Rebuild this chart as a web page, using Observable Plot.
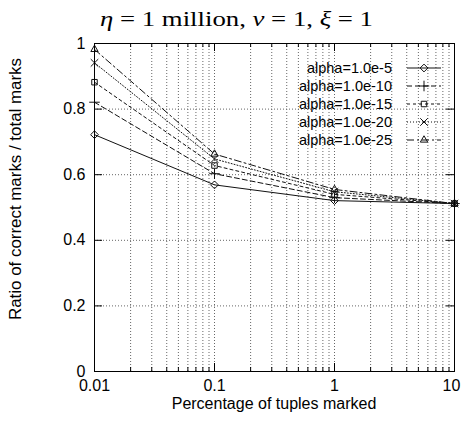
<!DOCTYPE html>
<html>
<head>
<meta charset="utf-8">
<script src="https://cdn.jsdelivr.net/npm/d3@7"></script>
<script src="https://cdn.jsdelivr.net/npm/@observablehq/plot@0.6"></script>
<style>
  body { margin: 0; background: #fff; }
</style>
</head>
<body>
<div id="wrap"></div>
<script>
// ---- data ----
const percents = [0.01, 0.1, 1, 10];
const alpha5  = [0.722, 0.569, 0.521, 0.512];
const alpha10 = [0.821, 0.603, 0.530, 0.512];
const alpha15 = [0.882, 0.628, 0.540, 0.512];
const alpha20 = [0.941, 0.648, 0.548, 0.512];
const alpha25 = [0.982, 0.663, 0.555, 0.512];
const seriesNames = ["alpha=1.0e-5", "alpha=1.0e-10", "alpha=1.0e-15", "alpha=1.0e-20", "alpha=1.0e-25"];
const xTickLabels = [0.01, 0.1, 1, 10];
const yTickLabels = [0, 0.2, 0.4, 0.6, 0.8, 1];
const xLabel = "Percentage of tuples marked";
const yLabel = "Ratio of correct marks / total marks";
const titleParts = [["η", true], [" = 1 million, ", false], ["ν", true], [" = 1, ", false], ["ξ", true], [" = 1", false]];

// ---- styles ----
const FONT = "'Liberation Sans', Arial, sans-serif";
const symbols = ["diamond2", "plus", "square2", "times", "triangle2"];
const dashes = [null, "5,3", "3,3", "1,2", "7,3,2,3"];
const seriesValues = [alpha5, alpha10, alpha15, alpha20, alpha25];

const rows = [];
seriesValues.forEach((vals, i) => vals.forEach((v, j) => rows.push({series: seriesNames[i], idx: i, x: percents[j], y: v})));

const allXTicks = d3.scaleLog().domain([0.01, 10]).ticks();
const minorX = allXTicks.filter(t => !xTickLabels.some(m => Math.abs(m - t) < 1e-12));
const innerY = yTickLabels.filter(v => v > 0 && v < 1);

const W = 462, H = 421, mL = 94, mR = 8, mT = 43, mB = 50;
const fw = W - mL - mR, fh = H - mT - mB;
const lineColor = "#111";

const marks = [
  Plot.ruleX(allXTicks.filter(t => t > 0.01 && t < 10), {x: d => d, stroke: "#666", strokeDasharray: "1,2"}),
  Plot.ruleY(innerY, {y: d => d, stroke: "#666", strokeDasharray: "1,2"}),
  // inward ticks
  Plot.tickX(xTickLabels, {x: d => d, insetTop: fh - 8, stroke: "#000"}),
  Plot.tickX(xTickLabels, {x: d => d, insetBottom: fh - 8, stroke: "#000"}),
  Plot.tickX(minorX, {x: d => d, insetTop: fh - 4, stroke: "#000"}),
  Plot.tickX(minorX, {x: d => d, insetBottom: fh - 4, stroke: "#000"}),
  Plot.tickY(yTickLabels, {y: d => d, insetRight: fw - 8, stroke: "#000"}),
  Plot.tickY(yTickLabels, {y: d => d, insetLeft: fw - 8, stroke: "#000"}),
];
seriesValues.forEach((vals, i) => {
  const data = rows.filter(r => r.idx === i);
  marks.push(Plot.line(data, {x: "x", y: "y", stroke: lineColor, strokeWidth: 1, strokeDasharray: dashes[i] || undefined}));
  marks.push(Plot.dot(data, {x: "x", y: "y", symbol: () => symbols[i], stroke: lineColor, fill: "none", r: 3.5, strokeWidth: 1}));
});
marks.push(Plot.frame({stroke: "#000"}));
marks.push(Plot.axisX(xTickLabels, {tickSize: 0, tickPadding: 8, fontSize: 16, label: null, tickFormat: d => String(d), fill: "#000"}));
marks.push(Plot.axisY(yTickLabels, {tickSize: 0, tickPadding: 9, fontSize: 16, label: null, tickFormat: d => (d === 0 || d === 1) ? String(d) : d.toFixed(1), fill: "#000"}));

const chart = Plot.plot({
  width: W, height: H,
  marginLeft: mL, marginRight: mR, marginTop: mT, marginBottom: mB,
  style: {fontFamily: FONT, background: "#fff", color: "#000"},
  x: {type: "log", domain: [0.01, 10]},
  y: {domain: [0, 1]},
  symbol: {domain: symbols, range: symbols},
  marks
});

const svg = d3.select(chart);
// nudge the last x tick label inside the picture
svg.selectAll("text").filter(function () { return this.textContent === "10"; }).attr("dx", -3);
// title
const t = svg.append("text").attr("x", 100).attr("y", 26).attr("text-anchor", "start")
  .attr("font-family", "'Liberation Serif', 'DejaVu Serif', serif").attr("font-size", 21).attr("fill", "#000")
  .attr("textLength", 273).attr("lengthAdjust", "spacingAndGlyphs");
titleParts.forEach(([s, it]) => t.append("tspan").attr("font-style", it ? "italic" : "normal").text(s));
// axis labels
svg.append("text").attr("x", mL + fw / 2).attr("y", 409).attr("text-anchor", "middle")
  .attr("font-family", FONT).attr("font-size", 16).attr("fill", "#000").text(xLabel);
svg.append("text").attr("transform", "translate(21,189) rotate(-90)").attr("text-anchor", "middle")
  .attr("font-family", FONT).attr("font-size", 16).attr("textLength", 262).attr("lengthAdjust", "spacingAndGlyphs")
  .attr("fill", "#000").text(yLabel);

// legend
const symGen = {
  diamond2: d3.symbolDiamond2, plus: d3.symbolPlus, square2: d3.symbolSquare2, times: d3.symbolTimes, triangle2: d3.symbolTriangle2
};
const leg = svg.append("g");
seriesNames.forEach((name, i) => {
  const cy = 68 + i * 18;
  leg.append("text").attr("x", 392).attr("y", cy + 5).attr("text-anchor", "end")
    .attr("font-family", FONT).attr("font-size", 14.5).attr("fill", "#000").text(name);
  leg.append("line").attr("x1", 407).attr("x2", 441).attr("y1", cy).attr("y2", cy)
    .attr("stroke", lineColor).attr("stroke-dasharray", dashes[i] || null);
  leg.append("path").attr("transform", `translate(424,${cy})`)
    .attr("d", d3.symbol(symGen[symbols[i]], Math.PI * 3.5 * 3.5)())
    .attr("fill", "none").attr("stroke", lineColor);
});

document.getElementById("wrap").appendChild(chart);
</script>
</body>
</html>
